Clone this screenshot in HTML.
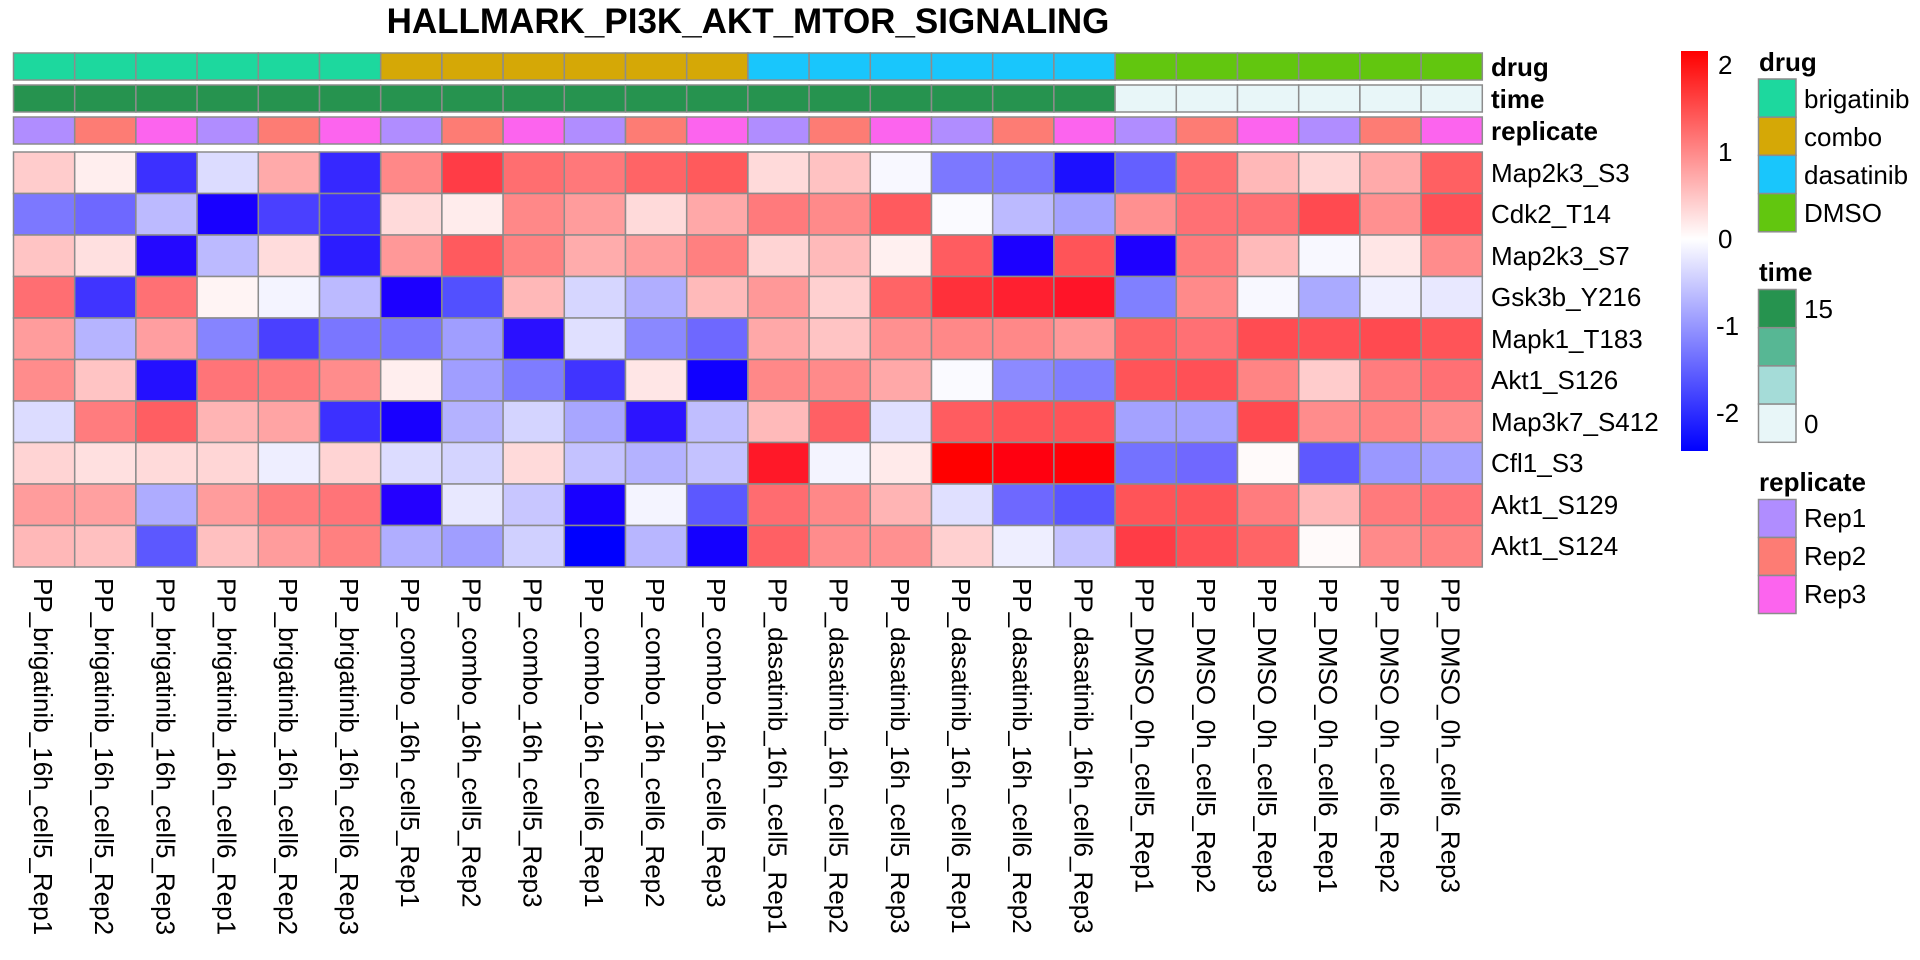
<!DOCTYPE html>
<html><head><meta charset="utf-8"><style>
html,body{margin:0;padding:0;background:#fff;width:1920px;height:960px;overflow:hidden}
text{font-family:"Liberation Sans",Arial,sans-serif;font-size:26px;fill:#000}
.b{font-weight:bold}
</style></head><body>
<svg width="1920" height="960" viewBox="0 0 1920 960" xmlns="http://www.w3.org/2000/svg">
<defs><linearGradient id="cb" x1="0" y1="0" x2="0" y2="1">
<stop offset="0" stop-color="#ff0000"/><stop offset="0.47" stop-color="#ffffff"/><stop offset="1" stop-color="#0000ff"/></linearGradient></defs>
<text x="748" y="33" text-anchor="middle" class="b" style="font-size:35px">HALLMARK_PI3K_AKT_MTOR_SIGNALING</text>
<g stroke="#8c8c8c" stroke-width="1.5">
<g transform="translate(0,53)">
<rect x="13.5" width="61.2" height="27" fill="#1dd89e"/><rect x="74.7" width="61.2" height="27" fill="#1dd89e"/><rect x="135.9" width="61.2" height="27" fill="#1dd89e"/><rect x="197.1" width="61.2" height="27" fill="#1dd89e"/><rect x="258.3" width="61.2" height="27" fill="#1dd89e"/><rect x="319.5" width="61.2" height="27" fill="#1dd89e"/>
<rect x="380.7" width="61.2" height="27" fill="#d5a806"/><rect x="441.9" width="61.2" height="27" fill="#d5a806"/><rect x="503.1" width="61.2" height="27" fill="#d5a806"/><rect x="564.3" width="61.2" height="27" fill="#d5a806"/><rect x="625.5" width="61.2" height="27" fill="#d5a806"/><rect x="686.7" width="61.2" height="27" fill="#d5a806"/>
<rect x="747.9" width="61.2" height="27" fill="#19c6fc"/><rect x="809.1" width="61.2" height="27" fill="#19c6fc"/><rect x="870.3" width="61.2" height="27" fill="#19c6fc"/><rect x="931.5" width="61.2" height="27" fill="#19c6fc"/><rect x="992.7" width="61.2" height="27" fill="#19c6fc"/><rect x="1053.9" width="61.2" height="27" fill="#19c6fc"/>
<rect x="1115.1" width="61.2" height="27" fill="#62c60f"/><rect x="1176.3" width="61.2" height="27" fill="#62c60f"/><rect x="1237.5" width="61.2" height="27" fill="#62c60f"/><rect x="1298.7" width="61.2" height="27" fill="#62c60f"/><rect x="1359.9" width="61.2" height="27" fill="#62c60f"/><rect x="1421.1" width="61.2" height="27" fill="#62c60f"/>
</g>
<g transform="translate(0,85)">
<rect x="13.5" width="61.2" height="27" fill="#26934f"/><rect x="74.7" width="61.2" height="27" fill="#26934f"/><rect x="135.9" width="61.2" height="27" fill="#26934f"/><rect x="197.1" width="61.2" height="27" fill="#26934f"/><rect x="258.3" width="61.2" height="27" fill="#26934f"/><rect x="319.5" width="61.2" height="27" fill="#26934f"/>
<rect x="380.7" width="61.2" height="27" fill="#26934f"/><rect x="441.9" width="61.2" height="27" fill="#26934f"/><rect x="503.1" width="61.2" height="27" fill="#26934f"/><rect x="564.3" width="61.2" height="27" fill="#26934f"/><rect x="625.5" width="61.2" height="27" fill="#26934f"/><rect x="686.7" width="61.2" height="27" fill="#26934f"/>
<rect x="747.9" width="61.2" height="27" fill="#26934f"/><rect x="809.1" width="61.2" height="27" fill="#26934f"/><rect x="870.3" width="61.2" height="27" fill="#26934f"/><rect x="931.5" width="61.2" height="27" fill="#26934f"/><rect x="992.7" width="61.2" height="27" fill="#26934f"/><rect x="1053.9" width="61.2" height="27" fill="#26934f"/>
<rect x="1115.1" width="61.2" height="27" fill="#e8f6f8"/><rect x="1176.3" width="61.2" height="27" fill="#e8f6f8"/><rect x="1237.5" width="61.2" height="27" fill="#e8f6f8"/><rect x="1298.7" width="61.2" height="27" fill="#e8f6f8"/><rect x="1359.9" width="61.2" height="27" fill="#e8f6f8"/><rect x="1421.1" width="61.2" height="27" fill="#e8f6f8"/>
</g>
<g transform="translate(0,117)">
<rect x="13.5" width="61.2" height="27" fill="#b08dff"/><rect x="74.7" width="61.2" height="27" fill="#fd7c74"/><rect x="135.9" width="61.2" height="27" fill="#fc64ee"/><rect x="197.1" width="61.2" height="27" fill="#b08dff"/><rect x="258.3" width="61.2" height="27" fill="#fd7c74"/><rect x="319.5" width="61.2" height="27" fill="#fc64ee"/>
<rect x="380.7" width="61.2" height="27" fill="#b08dff"/><rect x="441.9" width="61.2" height="27" fill="#fd7c74"/><rect x="503.1" width="61.2" height="27" fill="#fc64ee"/><rect x="564.3" width="61.2" height="27" fill="#b08dff"/><rect x="625.5" width="61.2" height="27" fill="#fd7c74"/><rect x="686.7" width="61.2" height="27" fill="#fc64ee"/>
<rect x="747.9" width="61.2" height="27" fill="#b08dff"/><rect x="809.1" width="61.2" height="27" fill="#fd7c74"/><rect x="870.3" width="61.2" height="27" fill="#fc64ee"/><rect x="931.5" width="61.2" height="27" fill="#b08dff"/><rect x="992.7" width="61.2" height="27" fill="#fd7c74"/><rect x="1053.9" width="61.2" height="27" fill="#fc64ee"/>
<rect x="1115.1" width="61.2" height="27" fill="#b08dff"/><rect x="1176.3" width="61.2" height="27" fill="#fd7c74"/><rect x="1237.5" width="61.2" height="27" fill="#fc64ee"/><rect x="1298.7" width="61.2" height="27" fill="#b08dff"/><rect x="1359.9" width="61.2" height="27" fill="#fd7c74"/><rect x="1421.1" width="61.2" height="27" fill="#fc64ee"/>
</g>
<g transform="translate(0,152)">
<rect x="13.5" width="61.2" height="41.5" fill="#ffcccc"/><rect x="74.7" width="61.2" height="41.5" fill="#ffeeee"/><rect x="135.9" width="61.2" height="41.5" fill="#3c30ff"/><rect x="197.1" width="61.2" height="41.5" fill="#dcdcff"/><rect x="258.3" width="61.2" height="41.5" fill="#ffaaaa"/><rect x="319.5" width="61.2" height="41.5" fill="#3628ff"/><rect x="380.7" width="61.2" height="41.5" fill="#ff8888"/><rect x="441.9" width="61.2" height="41.5" fill="#ff3c46"/><rect x="503.1" width="61.2" height="41.5" fill="#ff6e70"/><rect x="564.3" width="61.2" height="41.5" fill="#ff787a"/><rect x="625.5" width="61.2" height="41.5" fill="#ff6466"/><rect x="686.7" width="61.2" height="41.5" fill="#ff5a5c"/><rect x="747.9" width="61.2" height="41.5" fill="#ffdada"/><rect x="809.1" width="61.2" height="41.5" fill="#ffc2c2"/><rect x="870.3" width="61.2" height="41.5" fill="#f8f8ff"/><rect x="931.5" width="61.2" height="41.5" fill="#7c78ff"/><rect x="992.7" width="61.2" height="41.5" fill="#7a76ff"/><rect x="1053.9" width="61.2" height="41.5" fill="#1c10ff"/><rect x="1115.1" width="61.2" height="41.5" fill="#6460ff"/><rect x="1176.3" width="61.2" height="41.5" fill="#ff6e70"/><rect x="1237.5" width="61.2" height="41.5" fill="#ffb8b8"/><rect x="1298.7" width="61.2" height="41.5" fill="#ffd6d6"/><rect x="1359.9" width="61.2" height="41.5" fill="#ffaaaa"/><rect x="1421.1" width="61.2" height="41.5" fill="#ff6062"/>
</g>
<g transform="translate(0,193.5)">
<rect x="13.5" width="61.2" height="41.5" fill="#7c78ff"/><rect x="74.7" width="61.2" height="41.5" fill="#6e68ff"/><rect x="135.9" width="61.2" height="41.5" fill="#bcbaff"/><rect x="197.1" width="61.2" height="41.5" fill="#1800ff"/><rect x="258.3" width="61.2" height="41.5" fill="#4a40ff"/><rect x="319.5" width="61.2" height="41.5" fill="#3c30ff"/><rect x="380.7" width="61.2" height="41.5" fill="#ffdada"/><rect x="441.9" width="61.2" height="41.5" fill="#ffecec"/><rect x="503.1" width="61.2" height="41.5" fill="#ff8888"/><rect x="564.3" width="61.2" height="41.5" fill="#ff9c9c"/><rect x="625.5" width="61.2" height="41.5" fill="#ffdada"/><rect x="686.7" width="61.2" height="41.5" fill="#ffa8a8"/><rect x="747.9" width="61.2" height="41.5" fill="#ff7a7c"/><rect x="809.1" width="61.2" height="41.5" fill="#ff8a8a"/><rect x="870.3" width="61.2" height="41.5" fill="#ff5a5e"/><rect x="931.5" width="61.2" height="41.5" fill="#fafaff"/><rect x="992.7" width="61.2" height="41.5" fill="#bcbaff"/><rect x="1053.9" width="61.2" height="41.5" fill="#a4a2ff"/><rect x="1115.1" width="61.2" height="41.5" fill="#ff9090"/><rect x="1176.3" width="61.2" height="41.5" fill="#ff7074"/><rect x="1237.5" width="61.2" height="41.5" fill="#ff7074"/><rect x="1298.7" width="61.2" height="41.5" fill="#ff4a50"/><rect x="1359.9" width="61.2" height="41.5" fill="#ff9090"/><rect x="1421.1" width="61.2" height="41.5" fill="#ff5056"/>
</g>
<g transform="translate(0,235)">
<rect x="13.5" width="61.2" height="41.5" fill="#ffc4c4"/><rect x="74.7" width="61.2" height="41.5" fill="#ffe0e0"/><rect x="135.9" width="61.2" height="41.5" fill="#2408ff"/><rect x="197.1" width="61.2" height="41.5" fill="#bcbaff"/><rect x="258.3" width="61.2" height="41.5" fill="#ffdcdc"/><rect x="319.5" width="61.2" height="41.5" fill="#2c1cff"/><rect x="380.7" width="61.2" height="41.5" fill="#ff9898"/><rect x="441.9" width="61.2" height="41.5" fill="#ff5a5e"/><rect x="503.1" width="61.2" height="41.5" fill="#ff8282"/><rect x="564.3" width="61.2" height="41.5" fill="#ffacac"/><rect x="625.5" width="61.2" height="41.5" fill="#ff9c9c"/><rect x="686.7" width="61.2" height="41.5" fill="#ff8080"/><rect x="747.9" width="61.2" height="41.5" fill="#ffd4d4"/><rect x="809.1" width="61.2" height="41.5" fill="#ffbaba"/><rect x="870.3" width="61.2" height="41.5" fill="#fff0f0"/><rect x="931.5" width="61.2" height="41.5" fill="#ff5c60"/><rect x="992.7" width="61.2" height="41.5" fill="#1c00ff"/><rect x="1053.9" width="61.2" height="41.5" fill="#ff5458"/><rect x="1115.1" width="61.2" height="41.5" fill="#1e00ff"/><rect x="1176.3" width="61.2" height="41.5" fill="#ff7a7c"/><rect x="1237.5" width="61.2" height="41.5" fill="#ffbaba"/><rect x="1298.7" width="61.2" height="41.5" fill="#f8f8ff"/><rect x="1359.9" width="61.2" height="41.5" fill="#ffe6e6"/><rect x="1421.1" width="61.2" height="41.5" fill="#ff8c8c"/>
</g>
<g transform="translate(0,276.5)">
<rect x="13.5" width="61.2" height="41.5" fill="#ff6e72"/><rect x="74.7" width="61.2" height="41.5" fill="#4034ff"/><rect x="135.9" width="61.2" height="41.5" fill="#ff7074"/><rect x="197.1" width="61.2" height="41.5" fill="#fff4f4"/><rect x="258.3" width="61.2" height="41.5" fill="#f4f4ff"/><rect x="319.5" width="61.2" height="41.5" fill="#bcbaff"/><rect x="380.7" width="61.2" height="41.5" fill="#1c00ff"/><rect x="441.9" width="61.2" height="41.5" fill="#5250ff"/><rect x="503.1" width="61.2" height="41.5" fill="#ffb8b8"/><rect x="564.3" width="61.2" height="41.5" fill="#d6d6ff"/><rect x="625.5" width="61.2" height="41.5" fill="#b0aeff"/><rect x="686.7" width="61.2" height="41.5" fill="#ffbaba"/><rect x="747.9" width="61.2" height="41.5" fill="#ff9898"/><rect x="809.1" width="61.2" height="41.5" fill="#ffd0d0"/><rect x="870.3" width="61.2" height="41.5" fill="#ff6466"/><rect x="931.5" width="61.2" height="41.5" fill="#ff303a"/><rect x="992.7" width="61.2" height="41.5" fill="#ff2030"/><rect x="1053.9" width="61.2" height="41.5" fill="#ff1428"/><rect x="1115.1" width="61.2" height="41.5" fill="#8080ff"/><rect x="1176.3" width="61.2" height="41.5" fill="#ff8a8a"/><rect x="1237.5" width="61.2" height="41.5" fill="#f8f8ff"/><rect x="1298.7" width="61.2" height="41.5" fill="#aaaaff"/><rect x="1359.9" width="61.2" height="41.5" fill="#f0f0ff"/><rect x="1421.1" width="61.2" height="41.5" fill="#e8e8ff"/>
</g>
<g transform="translate(0,318)">
<rect x="13.5" width="61.2" height="41.5" fill="#ff9c9c"/><rect x="74.7" width="61.2" height="41.5" fill="#b6b4ff"/><rect x="135.9" width="61.2" height="41.5" fill="#ff9ea0"/><rect x="197.1" width="61.2" height="41.5" fill="#8684ff"/><rect x="258.3" width="61.2" height="41.5" fill="#4a40ff"/><rect x="319.5" width="61.2" height="41.5" fill="#7a76ff"/><rect x="380.7" width="61.2" height="41.5" fill="#7a76ff"/><rect x="441.9" width="61.2" height="41.5" fill="#a09eff"/><rect x="503.1" width="61.2" height="41.5" fill="#2a10ff"/><rect x="564.3" width="61.2" height="41.5" fill="#e0e0ff"/><rect x="625.5" width="61.2" height="41.5" fill="#8a88ff"/><rect x="686.7" width="61.2" height="41.5" fill="#6e68ff"/><rect x="747.9" width="61.2" height="41.5" fill="#ffa8a8"/><rect x="809.1" width="61.2" height="41.5" fill="#ffc4c4"/><rect x="870.3" width="61.2" height="41.5" fill="#ff9090"/><rect x="931.5" width="61.2" height="41.5" fill="#ff8888"/><rect x="992.7" width="61.2" height="41.5" fill="#ff8888"/><rect x="1053.9" width="61.2" height="41.5" fill="#ff9898"/><rect x="1115.1" width="61.2" height="41.5" fill="#ff6466"/><rect x="1176.3" width="61.2" height="41.5" fill="#ff7074"/><rect x="1237.5" width="61.2" height="41.5" fill="#ff4c52"/><rect x="1298.7" width="61.2" height="41.5" fill="#ff5056"/><rect x="1359.9" width="61.2" height="41.5" fill="#ff4a50"/><rect x="1421.1" width="61.2" height="41.5" fill="#ff5458"/>
</g>
<g transform="translate(0,359.5)">
<rect x="13.5" width="61.2" height="41.5" fill="#ff8c8c"/><rect x="74.7" width="61.2" height="41.5" fill="#ffc4c4"/><rect x="135.9" width="61.2" height="41.5" fill="#2410ff"/><rect x="197.1" width="61.2" height="41.5" fill="#ff7478"/><rect x="258.3" width="61.2" height="41.5" fill="#ff7a7c"/><rect x="319.5" width="61.2" height="41.5" fill="#ff8c8c"/><rect x="380.7" width="61.2" height="41.5" fill="#ffeeee"/><rect x="441.9" width="61.2" height="41.5" fill="#a09eff"/><rect x="503.1" width="61.2" height="41.5" fill="#7e7cff"/><rect x="564.3" width="61.2" height="41.5" fill="#4034ff"/><rect x="625.5" width="61.2" height="41.5" fill="#ffe6e6"/><rect x="686.7" width="61.2" height="41.5" fill="#1000ff"/><rect x="747.9" width="61.2" height="41.5" fill="#ff8888"/><rect x="809.1" width="61.2" height="41.5" fill="#ff8a8a"/><rect x="870.3" width="61.2" height="41.5" fill="#ffa8a8"/><rect x="931.5" width="61.2" height="41.5" fill="#fafaff"/><rect x="992.7" width="61.2" height="41.5" fill="#8c8aff"/><rect x="1053.9" width="61.2" height="41.5" fill="#807eff"/><rect x="1115.1" width="61.2" height="41.5" fill="#ff5458"/><rect x="1176.3" width="61.2" height="41.5" fill="#ff5056"/><rect x="1237.5" width="61.2" height="41.5" fill="#ff8484"/><rect x="1298.7" width="61.2" height="41.5" fill="#ffcccc"/><rect x="1359.9" width="61.2" height="41.5" fill="#ff7c7e"/><rect x="1421.1" width="61.2" height="41.5" fill="#ff7074"/>
</g>
<g transform="translate(0,401)">
<rect x="13.5" width="61.2" height="41.5" fill="#dcdcff"/><rect x="74.7" width="61.2" height="41.5" fill="#ff7c7e"/><rect x="135.9" width="61.2" height="41.5" fill="#ff5e62"/><rect x="197.1" width="61.2" height="41.5" fill="#ffb4b4"/><rect x="258.3" width="61.2" height="41.5" fill="#ffa4a4"/><rect x="319.5" width="61.2" height="41.5" fill="#3c30ff"/><rect x="380.7" width="61.2" height="41.5" fill="#1800ff"/><rect x="441.9" width="61.2" height="41.5" fill="#b4b2ff"/><rect x="503.1" width="61.2" height="41.5" fill="#d4d4ff"/><rect x="564.3" width="61.2" height="41.5" fill="#a8a6ff"/><rect x="625.5" width="61.2" height="41.5" fill="#2c14ff"/><rect x="686.7" width="61.2" height="41.5" fill="#c0beff"/><rect x="747.9" width="61.2" height="41.5" fill="#ffbaba"/><rect x="809.1" width="61.2" height="41.5" fill="#ff6064"/><rect x="870.3" width="61.2" height="41.5" fill="#e0e0ff"/><rect x="931.5" width="61.2" height="41.5" fill="#ff5c60"/><rect x="992.7" width="61.2" height="41.5" fill="#ff5458"/><rect x="1053.9" width="61.2" height="41.5" fill="#ff5458"/><rect x="1115.1" width="61.2" height="41.5" fill="#a4a2ff"/><rect x="1176.3" width="61.2" height="41.5" fill="#a4a2ff"/><rect x="1237.5" width="61.2" height="41.5" fill="#ff4a50"/><rect x="1298.7" width="61.2" height="41.5" fill="#ff8c8c"/><rect x="1359.9" width="61.2" height="41.5" fill="#ff8282"/><rect x="1421.1" width="61.2" height="41.5" fill="#ff8c8c"/>
</g>
<g transform="translate(0,442.5)">
<rect x="13.5" width="61.2" height="41.5" fill="#ffd4d4"/><rect x="74.7" width="61.2" height="41.5" fill="#ffe0e0"/><rect x="135.9" width="61.2" height="41.5" fill="#ffdada"/><rect x="197.1" width="61.2" height="41.5" fill="#ffd6d6"/><rect x="258.3" width="61.2" height="41.5" fill="#eeeeff"/><rect x="319.5" width="61.2" height="41.5" fill="#ffd4d4"/><rect x="380.7" width="61.2" height="41.5" fill="#dcdcff"/><rect x="441.9" width="61.2" height="41.5" fill="#d4d4ff"/><rect x="503.1" width="61.2" height="41.5" fill="#ffdada"/><rect x="564.3" width="61.2" height="41.5" fill="#c4c2ff"/><rect x="625.5" width="61.2" height="41.5" fill="#b4b2ff"/><rect x="686.7" width="61.2" height="41.5" fill="#c4c2ff"/><rect x="747.9" width="61.2" height="41.5" fill="#ff1828"/><rect x="809.1" width="61.2" height="41.5" fill="#f4f4ff"/><rect x="870.3" width="61.2" height="41.5" fill="#ffeaea"/><rect x="931.5" width="61.2" height="41.5" fill="#ff0000"/><rect x="992.7" width="61.2" height="41.5" fill="#ff0010"/><rect x="1053.9" width="61.2" height="41.5" fill="#ff0008"/><rect x="1115.1" width="61.2" height="41.5" fill="#7472ff"/><rect x="1176.3" width="61.2" height="41.5" fill="#7068ff"/><rect x="1237.5" width="61.2" height="41.5" fill="#fffafa"/><rect x="1298.7" width="61.2" height="41.5" fill="#5e58ff"/><rect x="1359.9" width="61.2" height="41.5" fill="#9a98ff"/><rect x="1421.1" width="61.2" height="41.5" fill="#a4a2ff"/>
</g>
<g transform="translate(0,484)">
<rect x="13.5" width="61.2" height="41.5" fill="#ff9c9c"/><rect x="74.7" width="61.2" height="41.5" fill="#ffa0a0"/><rect x="135.9" width="61.2" height="41.5" fill="#aeacff"/><rect x="197.1" width="61.2" height="41.5" fill="#ff9c9c"/><rect x="258.3" width="61.2" height="41.5" fill="#ff7c7e"/><rect x="319.5" width="61.2" height="41.5" fill="#ff7478"/><rect x="380.7" width="61.2" height="41.5" fill="#2400ff"/><rect x="441.9" width="61.2" height="41.5" fill="#e8e8ff"/><rect x="503.1" width="61.2" height="41.5" fill="#c8c6ff"/><rect x="564.3" width="61.2" height="41.5" fill="#1800ff"/><rect x="625.5" width="61.2" height="41.5" fill="#f4f4ff"/><rect x="686.7" width="61.2" height="41.5" fill="#5c58ff"/><rect x="747.9" width="61.2" height="41.5" fill="#ff6c70"/><rect x="809.1" width="61.2" height="41.5" fill="#ff8888"/><rect x="870.3" width="61.2" height="41.5" fill="#ffb4b4"/><rect x="931.5" width="61.2" height="41.5" fill="#e0e0ff"/><rect x="992.7" width="61.2" height="41.5" fill="#6e68ff"/><rect x="1053.9" width="61.2" height="41.5" fill="#5a56ff"/><rect x="1115.1" width="61.2" height="41.5" fill="#ff5458"/><rect x="1176.3" width="61.2" height="41.5" fill="#ff5458"/><rect x="1237.5" width="61.2" height="41.5" fill="#ff7c7e"/><rect x="1298.7" width="61.2" height="41.5" fill="#ffb8b8"/><rect x="1359.9" width="61.2" height="41.5" fill="#ff7a7c"/><rect x="1421.1" width="61.2" height="41.5" fill="#ff7478"/>
</g>
<g transform="translate(0,525.5)">
<rect x="13.5" width="61.2" height="41.5" fill="#ffb8b8"/><rect x="74.7" width="61.2" height="41.5" fill="#ffc0c0"/><rect x="135.9" width="61.2" height="41.5" fill="#5c58ff"/><rect x="197.1" width="61.2" height="41.5" fill="#ffc0c0"/><rect x="258.3" width="61.2" height="41.5" fill="#ff9c9c"/><rect x="319.5" width="61.2" height="41.5" fill="#ff8080"/><rect x="380.7" width="61.2" height="41.5" fill="#b0aeff"/><rect x="441.9" width="61.2" height="41.5" fill="#a09eff"/><rect x="503.1" width="61.2" height="41.5" fill="#d0d0ff"/><rect x="564.3" width="61.2" height="41.5" fill="#0000ff"/><rect x="625.5" width="61.2" height="41.5" fill="#b8b6ff"/><rect x="686.7" width="61.2" height="41.5" fill="#1400ff"/><rect x="747.9" width="61.2" height="41.5" fill="#ff6064"/><rect x="809.1" width="61.2" height="41.5" fill="#ff8c8c"/><rect x="870.3" width="61.2" height="41.5" fill="#ff9090"/><rect x="931.5" width="61.2" height="41.5" fill="#ffd0d0"/><rect x="992.7" width="61.2" height="41.5" fill="#eeeeff"/><rect x="1053.9" width="61.2" height="41.5" fill="#c4c2ff"/><rect x="1115.1" width="61.2" height="41.5" fill="#ff3c46"/><rect x="1176.3" width="61.2" height="41.5" fill="#ff5056"/><rect x="1237.5" width="61.2" height="41.5" fill="#ff6466"/><rect x="1298.7" width="61.2" height="41.5" fill="#fffafa"/><rect x="1359.9" width="61.2" height="41.5" fill="#ff8a8a"/><rect x="1421.1" width="61.2" height="41.5" fill="#ff8282"/>
</g>
<rect x="1758.5" y="79" width="37.5" height="38.2" fill="#1dd89e"/><rect x="1758.5" y="117.2" width="37.5" height="38.2" fill="#d5a806"/><rect x="1758.5" y="155.4" width="37.5" height="38.2" fill="#19c6fc"/><rect x="1758.5" y="193.6" width="37.5" height="38.2" fill="#62c60f"/>
<rect x="1758.5" y="289.5" width="37.5" height="38.2" fill="#26934f"/><rect x="1758.5" y="327.7" width="37.5" height="38.2" fill="#57b794"/><rect x="1758.5" y="365.9" width="37.5" height="38.2" fill="#a5dcd8"/><rect x="1758.5" y="404.1" width="37.5" height="38.2" fill="#e8f6f8"/>
<rect x="1758.5" y="499.5" width="37.5" height="38" fill="#b08dff"/><rect x="1758.5" y="537.5" width="37.5" height="38" fill="#fd7c74"/><rect x="1758.5" y="575.5" width="37.5" height="38" fill="#fc64ee"/>
</g>
<rect x="1681" y="51" width="27" height="400" fill="url(#cb)"/>
<g dominant-baseline="central">
<text x="1718" y="65">2</text><text x="1718" y="152">1</text><text x="1718" y="239">0</text><text x="1716" y="326">-1</text><text x="1716" y="413">-2</text>
<text x="1759" y="62" class="b">drug</text>
<text x="1804" y="99">brigatinib</text><text x="1804" y="137">combo</text><text x="1804" y="175">dasatinib</text><text x="1804" y="213">DMSO</text>
<text x="1759" y="272" class="b">time</text>
<text x="1804" y="309">15</text><text x="1804" y="424">0</text>
<text x="1759" y="482" class="b">replicate</text>
<text x="1804" y="518">Rep1</text><text x="1804" y="556">Rep2</text><text x="1804" y="594">Rep3</text>
<text x="1491" y="67" class="b">drug</text><text x="1491" y="99" class="b">time</text><text x="1491" y="131" class="b">replicate</text>
<text x="1491" y="173">Map2k3_S3</text><text x="1491" y="214">Cdk2_T14</text><text x="1491" y="256">Map2k3_S7</text><text x="1491" y="297">Gsk3b_Y216</text><text x="1491" y="339">Mapk1_T183</text><text x="1491" y="380">Akt1_S126</text><text x="1491" y="422">Map3k7_S412</text><text x="1491" y="463">Cfl1_S3</text><text x="1491" y="505">Akt1_S129</text><text x="1491" y="546">Akt1_S124</text>
<text transform="translate(43,578) rotate(90)">PP_brigatinib_16h_cell5_Rep1</text>
<text transform="translate(104.2,578) rotate(90)">PP_brigatinib_16h_cell5_Rep2</text>
<text transform="translate(165.4,578) rotate(90)">PP_brigatinib_16h_cell5_Rep3</text>
<text transform="translate(226.6,578) rotate(90)">PP_brigatinib_16h_cell6_Rep1</text>
<text transform="translate(287.8,578) rotate(90)">PP_brigatinib_16h_cell6_Rep2</text>
<text transform="translate(349,578) rotate(90)">PP_brigatinib_16h_cell6_Rep3</text>
<text transform="translate(410.2,578) rotate(90)">PP_combo_16h_cell5_Rep1</text>
<text transform="translate(471.4,578) rotate(90)">PP_combo_16h_cell5_Rep2</text>
<text transform="translate(532.6,578) rotate(90)">PP_combo_16h_cell5_Rep3</text>
<text transform="translate(593.8,578) rotate(90)">PP_combo_16h_cell6_Rep1</text>
<text transform="translate(655,578) rotate(90)">PP_combo_16h_cell6_Rep2</text>
<text transform="translate(716.2,578) rotate(90)">PP_combo_16h_cell6_Rep3</text>
<text transform="translate(777.4,578) rotate(90)">PP_dasatinib_16h_cell5_Rep1</text>
<text transform="translate(838.6,578) rotate(90)">PP_dasatinib_16h_cell5_Rep2</text>
<text transform="translate(899.8,578) rotate(90)">PP_dasatinib_16h_cell5_Rep3</text>
<text transform="translate(961,578) rotate(90)">PP_dasatinib_16h_cell6_Rep1</text>
<text transform="translate(1022.2,578) rotate(90)">PP_dasatinib_16h_cell6_Rep2</text>
<text transform="translate(1083.4,578) rotate(90)">PP_dasatinib_16h_cell6_Rep3</text>
<text transform="translate(1144.6,578) rotate(90)">PP_DMSO_0h_cell5_Rep1</text>
<text transform="translate(1205.8,578) rotate(90)">PP_DMSO_0h_cell5_Rep2</text>
<text transform="translate(1267,578) rotate(90)">PP_DMSO_0h_cell5_Rep3</text>
<text transform="translate(1328.2,578) rotate(90)">PP_DMSO_0h_cell6_Rep1</text>
<text transform="translate(1389.4,578) rotate(90)">PP_DMSO_0h_cell6_Rep2</text>
<text transform="translate(1450.6,578) rotate(90)">PP_DMSO_0h_cell6_Rep3</text>
</g>
</svg>
</body></html>
